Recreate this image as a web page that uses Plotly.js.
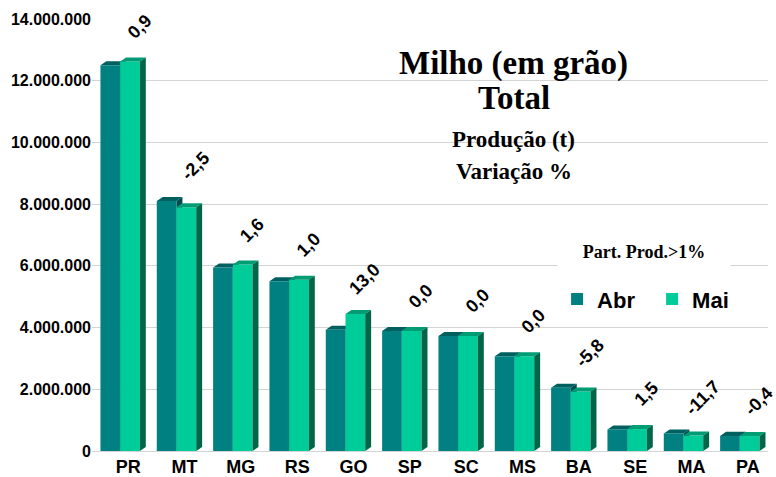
<!DOCTYPE html>
<html>
<head>
<meta charset="utf-8">
<script src="https://cdn.plot.ly/plotly-3.0.1.min.js"></script>
<style>html,body{margin:0;padding:0;background:#fff;}#chart{width:776px;height:477px;}</style>
</head>
<body>
<div id="chart"></div>
<script>
const categories = ['PR','MT','MG','RS','GO','SP','SC','MS','BA','SE','MA','PA'];
const abr = [12500000, 8100000, 5950000, 5500000, 3930000, 3890000, 3730000, 3070000, 2050000, 700000, 570000, 490000];
const mai = [12620000, 7900000, 6040000, 5550000, 4440000, 3890000, 3730000, 3070000, 1930000, 710000, 500000, 485000];
const variacao = ['0,9','-2,5','1,6','1,0','13,0','0,0','0,0','0,0','-5,8','1,5','-11,7','-0,4'];
const seriesNames = ['Abr', 'Mai'];
const titleLines = ['Milho (em grão)', 'Total', 'Produção (t)', 'Variação %'];
const legendTitle = 'Part. Prod.>1%';

const SANS = 'Liberation Sans, Arial, sans-serif';
const SERIF = 'Liberation Serif, Times New Roman, serif';
const idx = categories.map((c, i) => i);

const BARGAP = 0.3;
const W = (1 - BARGAP) / 2;      // width of one bar in category units
const DX = 0.105;                // 3D depth, horizontal (category units)
const DY = 130000;               // 3D depth, vertical (data units)

const colAbr = '#008080', colAbrTop = '#005f5f', colAbrSide = '#004c4c';
const colMai = '#00cc99', colMaiTop = '#009c74', colMaiSide = '#006647';

const shapes = [];
function face(pts, color, layer) {
  const p = 'M' + pts.map(q => q[0] + ',' + q[1]).join(' L') + ' Z';
  shapes.push({type: 'path', xref: 'x', yref: 'y', path: p, fillcolor: color,
               line: {width: 0}, layer: layer});
}
idx.forEach(i => {
  const a = abr[i], m = mai[i];
  face([[i - W, a], [i, a], [i + DX, a + DY], [i - W + DX, a + DY]], colAbrTop, 'between');
  face([[i, 0], [i, a], [i + DX, a + DY], [i + DX, DY]], colAbrSide, 'between');
  face([[i, m], [i + W, m], [i + W + DX, m + DY], [i + DX, m + DY]], colMaiTop, 'above');
  face([[i + W, 0], [i + W, m], [i + W + DX, m + DY], [i + W + DX, DY]], colMaiSide, 'above');
});

const traces = [
  {type: 'bar', name: seriesNames[0], x: idx, y: abr, marker: {color: colAbr, line: {width: 0}}, hoverinfo: 'skip'},
  {type: 'bar', name: seriesNames[1], x: idx, y: mai, marker: {color: colMai, line: {width: 0}}, hoverinfo: 'skip'}
];

const annotations = idx.map(i => ({
  x: i, y: Math.max(abr[i], mai[i]), xref: 'x', yref: 'y',
  text: variacao[i], showarrow: false, textangle: -45,
  xshift: 19, yshift: 35, xanchor: 'center', yanchor: 'middle',
  font: {family: SANS, size: 18, color: '#000', weight: 'bold'}
}));
const titleY = [0.898, 0.817, 0.720, 0.648];
const titleSize = [33, 33, 23, 23];
titleLines.forEach((t, k) => annotations.push({
  xref: 'paper', yref: 'paper', x: 0.624, y: titleY[k], xanchor: 'center', yanchor: 'middle',
  text: '<b>' + t + '</b>', showarrow: false,
  font: {family: SERIF, size: titleSize[k], color: '#000'}
}));
// legend heading with a white box that interrupts the gridline
annotations.push({
  xref: 'paper', yref: 'paper', x: 0.8166, y: 0.461, xanchor: 'center', yanchor: 'middle',
  text: '<b>' + legendTitle + '</b>', showarrow: false, bgcolor: '#fff',
  width: 170, height: 28, align: 'center', valign: 'middle',
  font: {family: SERIF, size: 18, color: '#000'}
});

const layout = {
  width: 776, height: 477,
  margin: {l: 92, r: 8, t: 19, b: 26, pad: 0},
  paper_bgcolor: '#fff', plot_bgcolor: '#fff',
  separators: ',.',
  barmode: 'group', bargap: BARGAP, bargroupgap: 0,
  showlegend: true,
  legend: {
    orientation: 'h', x: 0.688, y: 0.40, xanchor: 'left', yanchor: 'top',
    bgcolor: 'rgba(255,255,255,0)', borderwidth: 0,
    entrywidth: 50, entrywidthmode: 'pixels',
    font: {family: SANS, size: 22, color: '#000', weight: 'bold'},
    traceorder: 'normal'
  },
  xaxis: {
    type: 'linear', range: [-0.5, 11.5], tickmode: 'array', tickvals: idx, ticktext: categories,
    showgrid: false, zeroline: false, showline: false, ticks: '', ticklabelshift: 8, ticklabelstandoff: 3,
    tickfont: {family: SANS, size: 18, color: '#000', weight: 'bold'}, fixedrange: true
  },
  yaxis: {
    range: [0, 14000000], dtick: 2000000, tickformat: ',d',
    showgrid: true, gridcolor: '#d4d4d4', gridwidth: 1,
    zeroline: true, zerolinecolor: '#d4d4d4', zerolinewidth: 1, showline: false, ticks: '',
    tickfont: {family: SANS, size: 16, color: '#000', weight: 'bold'}, fixedrange: true
  },
  shapes: shapes,
  annotations: annotations
};

Plotly.newPlot('chart', traces, layout, {displayModeBar: false, staticPlot: true});
</script>
</body>
</html>
